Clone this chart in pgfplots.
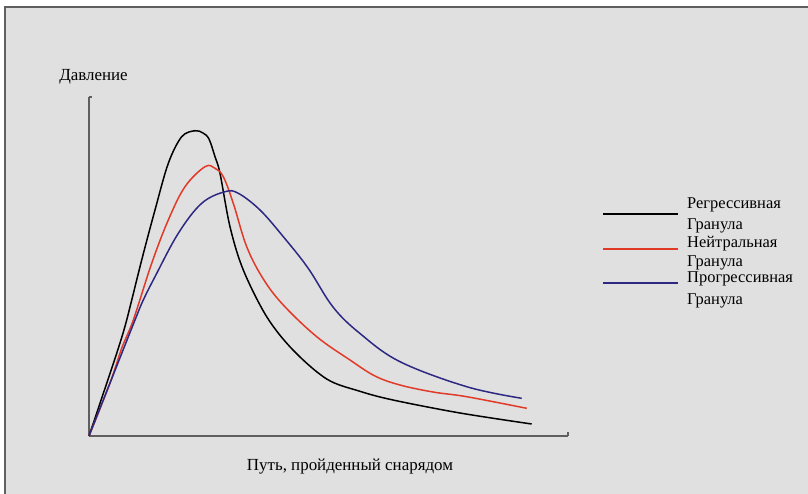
\documentclass[border=0pt]{standalone}
\usepackage{pgfplots}
\pgfplotsset{compat=1.18}
\usepackage{fontspec}
\setmainfont{Liberation Serif}
\definecolor{bg}{RGB}{224,224,224}
\definecolor{frame}{RGB}{95,95,95}
\definecolor{axisgray}{RGB}{95,95,95}
\definecolor{cred}{RGB}{226,58,40}
\definecolor{cblue}{RGB}{45,40,130}
\begin{document}
\begin{tikzpicture}[lf/.style={font=\fontsize{16.5}{19}\selectfont, anchor=base west, inner sep=0pt}]
\useasboundingbox (0,0) rectangle (808bp,-494bp);
\fill[white] (0,0) rectangle (808bp,-494bp);
\fill[bg] (5bp,-7bp) rectangle (808bp,-494bp);
\draw[frame,line width=1.5bp] (5bp,-494bp) -- (5bp,-7bp) -- (808bp,-7bp);
\node[font=\fontsize{17}{20}\selectfont, anchor=center] at (93.5bp,-77bp) {Давление};
\node[font=\fontsize{17}{20}\selectfont, anchor=center] at (350bp,-467bp) {Путь, пройденный снарядом};
\begin{axis}[
  at={(89bp,-436bp)}, anchor=south west,
  scale only axis, width=479bp, height=339bp,
  xmin=0, xmax=479, ymin=0, ymax=339,
  axis lines=left, axis line style={-, draw=axisgray, line width=1.3bp},
  ticks=none,
  clip=false,
]
\addplot[black, line width=1.5bp, smooth, tension=0.55] coordinates {
(0,0) (17.7,52.7) (29.3,87.7) (37.7,116) (52.7,176) (66,226) (79.3,272.7)
(92.7,299.3) (106,305.3) (114,303) (120,297) (126,279.3) (131,262.7) (141,209.3)
(154.3,166) (177.7,119.3) (204,86) (237.7,57) (270,45) (304,36)
(371,23) (442.7,12)};
\addplot[cred, line width=1.5bp, smooth, tension=0.6] coordinates {
(0,0) (21,53) (32.7,87.7) (44.3,116) (62.7,172.7) (79.3,216) (96,249.3)
(116,269.3) (126,267.7) (134.3,259.3) (144.3,232.7) (157.7,189.3)
(174.3,157) (194.3,131) (227.7,99.3) (261,76) (286,60) (311,51) (344,44)
(377.7,39.3) (437.7,27.7)};
\addplot[cblue, line width=1.5bp, smooth, tension=0.6] coordinates {
(0,0) (23,58) (46,116) (54.3,136) (66,159.3) (89.3,202.7) (112.7,232.7)
(136,244.3) (149.3,242.7) (171,226) (194.3,199.3) (219,168) (244,129)
(271,102.5) (311,74.3) (377.7,49.3) (432.7,37.7)};
\draw[axisgray, line width=1.3bp] (axis cs:0,339) -- (axis cs:3,339);
\draw[axisgray, line width=1.3bp] (axis cs:479,0) -- (axis cs:479,4);
\end{axis}
% legend
\draw[line width=1.8bp, draw=black] (603bp,-214bp) -- (678bp,-214bp);
\draw[line width=1.8bp, draw=cred] (603bp,-249bp) -- (678bp,-249bp);
\draw[line width=1.8bp, draw=cblue] (603bp,-283bp) -- (678bp,-283bp);
\node[lf] at (687bp,-208bp) {Регрессивная};
\node[lf] at (687bp,-229bp) {Гранула};
\node[lf] at (687bp,-247bp) {Нейтральная};
\node[lf] at (687bp,-266.5bp) {Гранула};
\node[lf] at (687bp,-282.5bp) {Прогрессивная};
\node[lf] at (687bp,-304bp) {Гранула};
\end{tikzpicture}
\end{document}
